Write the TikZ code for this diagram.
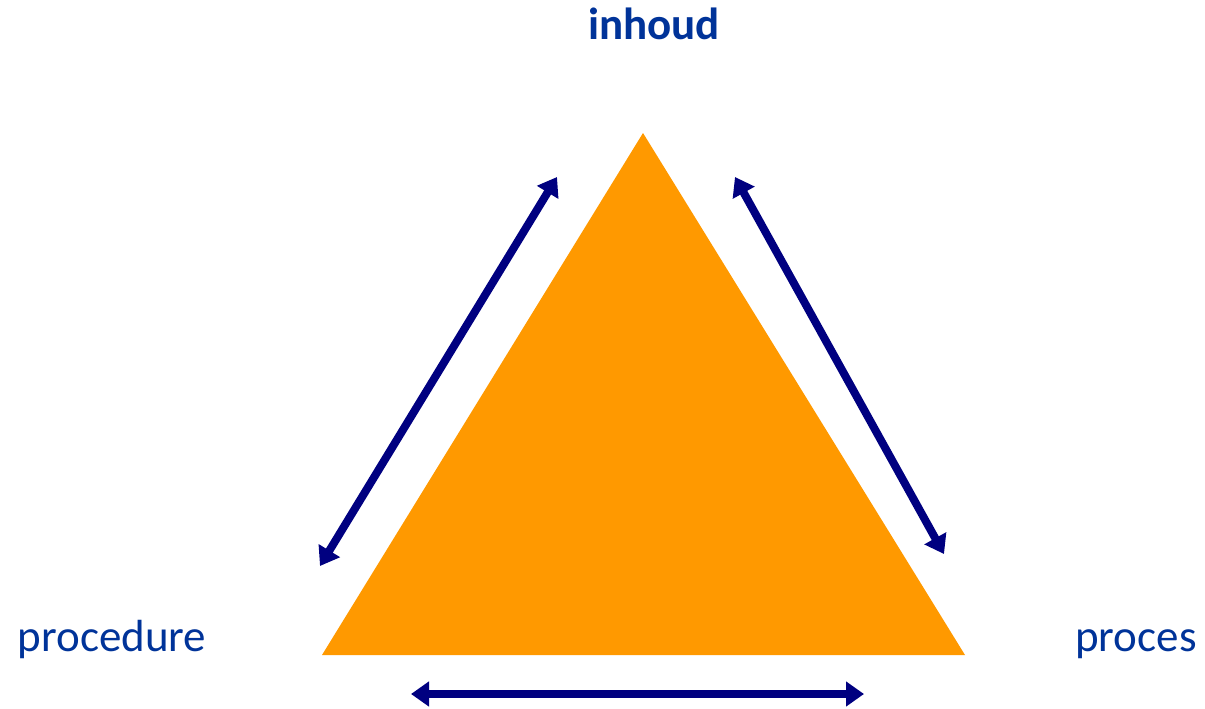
\documentclass[tikz,border=0pt]{standalone}
\usepackage{fontspec}
\setmainfont{Carlito}
\usetikzlibrary{arrows.meta}
\definecolor{tri}{HTML}{FF9900}
\definecolor{arr}{HTML}{000080}
\definecolor{lbl}{HTML}{003399}
\begin{document}
\begin{tikzpicture}[x=1pt,y=-1pt,
  lab/.style={text=lbl,font=\fontsize{45}{48}\selectfont,inner sep=0pt,anchor=base},
  dbl/.style={draw=arr,line width=8pt,{Triangle[length=18pt,width=24pt]}-{Triangle[length=18pt,width=24pt]}}]
\useasboundingbox (0,0) rectangle (1205,709);
\fill[tri] (643,133) coordinate (top) -- (965,655) coordinate (br) -- (322,655) coordinate (bl) -- cycle;
\node[lab,font=\bfseries\fontsize{45}{48}\selectfont] (inh) at (654,40) {inhoud};
\node[lab] (proc) at (112,651) {procedure};
\node[lab] (pros) at (1136,651) {proces};
\coordinate (l1) at (320,566);
\coordinate (l2) at (557,177);
\coordinate (r1) at (735,177);
\coordinate (r2) at (944,554);
\coordinate (b1) at (411,694);
\coordinate (b2) at (864,694);
\draw[dbl] (l1) -- (l2);
\draw[dbl] (r1) -- (r2);
\draw[dbl] (b1) -- (b2);
\end{tikzpicture}
\end{document}
